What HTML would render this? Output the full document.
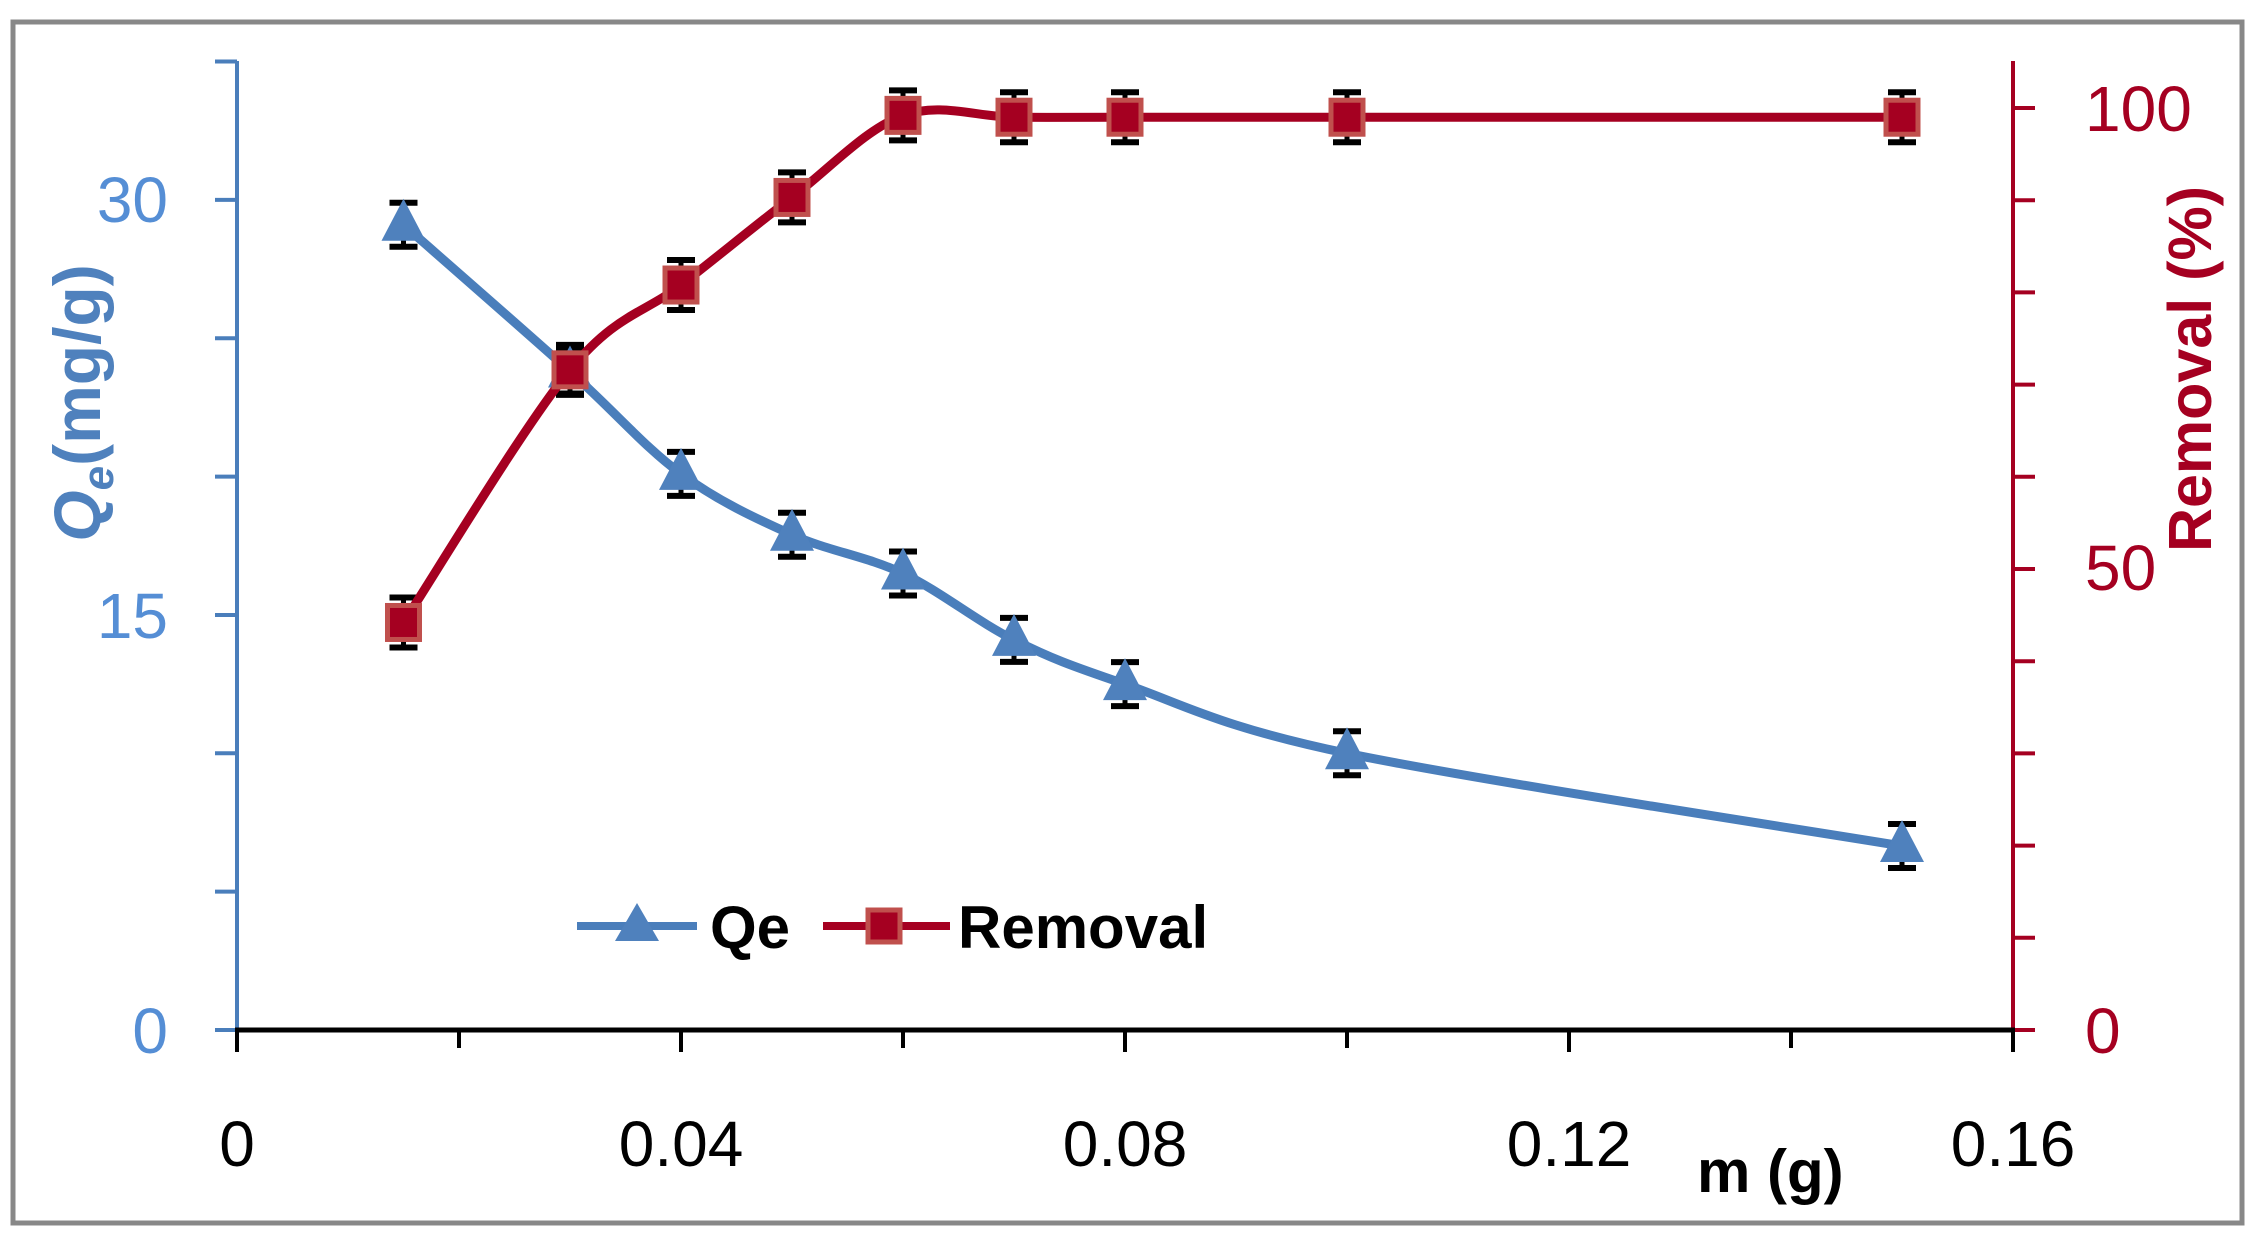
<!DOCTYPE html>
<html><head><meta charset="utf-8"><style>
html,body{margin:0;padding:0;background:#fff}
svg{display:block}
text{font-family:"Liberation Sans",sans-serif}
</style></head><body>
<svg id="s" width="2258" height="1243" viewBox="0 0 2258 1243" xmlns="http://www.w3.org/2000/svg">
<rect x="13" y="22" width="2229" height="1201" fill="#fff" stroke="#888" stroke-width="5"/>
<g id="ax"></g>
<g font-size="64" fill="#558ed5" text-anchor="end">
<text x="168" y="222">30</text><text x="168" y="638">15</text><text x="168" y="1053">0</text>
</g>
<g font-size="64" fill="#a50021">
<text x="2085" y="131">100</text><text x="2085" y="590">50</text><text x="2085" y="1053">0</text>
</g>
<g font-size="64" fill="#000" text-anchor="middle">
<text x="237" y="1166">0</text><text x="681" y="1166">0.04</text><text x="1125" y="1166">0.08</text><text x="1569" y="1166">0.12</text><text x="2013" y="1166">0.16</text>
</g>
<text x="1697" y="1192" font-size="60" font-weight="bold" fill="#000">m (g)</text>
<text transform="translate(100,403) rotate(-90)" text-anchor="middle" font-size="66" font-weight="bold" fill="#4f81bd"><tspan font-style="italic">Q</tspan><tspan font-style="italic" font-size="44" dy="13">e</tspan><tspan dy="-13">(mg/g)</tspan></text>
<text transform="translate(2211,369) rotate(-90)" text-anchor="middle" font-size="61" font-weight="bold" fill="#a50021">Removal (%)</text>
<g id="data"></g>
<line x1="577" y1="926" x2="697" y2="926" stroke="#4a7ebb" stroke-width="8"/>
<polygon points="637,903 659,941 615,941" fill="#4f81bd"/>
<text x="710" y="948" font-size="60" font-weight="bold">Qe</text>
<line x1="823" y1="926" x2="950" y2="926" stroke="#a50021" stroke-width="8"/>
<rect x="868" y="910" width="32" height="32" fill="#a50021" stroke="#c0504d" stroke-width="5"/>
<text x="958" y="948" font-size="60" font-weight="bold">Removal</text>
</svg>
<script>
var NS="http://www.w3.org/2000/svg";
function el(p,t,a){var e=document.createElementNS(NS,t);for(var k in a)e.setAttribute(k,a[k]);p.appendChild(e);return e;}
var ax=document.getElementById('ax'),d=document.getElementById('data');
var X=function(m){return 237+m*11100;},YL=function(v){return 1030-v*27.67;},YR=function(v){return 1030-v*9.22;};
el(ax,'line',{x1:237,y1:61,x2:237,y2:1030,stroke:'#4a7ebb','stroke-width':4});
for(var v=0;v<=35;v+=5)el(ax,'line',{x1:215,y1:YL(v),x2:237,y2:YL(v),stroke:'#4a7ebb','stroke-width':4});
el(ax,'line',{x1:2013,y1:61,x2:2013,y2:1030,stroke:'#a50021','stroke-width':4});
for(var v=0;v<=100;v+=10)el(ax,'line',{x1:2013,y1:YR(v),x2:2035,y2:YR(v),stroke:'#a50021','stroke-width':4});
el(ax,'line',{x1:235,y1:1030,x2:2015,y2:1030,stroke:'#000','stroke-width':5});
for(var i=0;i<=8;i++){var x=237+i*222;el(ax,'line',{x1:x,y1:1030,x2:x,y2:i%2?1048:1052,stroke:'#000','stroke-width':4});}
var ms=[0.015,0.03,0.04,0.05,0.06,0.07,0.08,0.10,0.15];
var qe=[29.1,23.8,20.1,17.9,16.5,14.1,12.5,10.0,6.65];
var rm=[44.2,71.6,80.8,90.3,99.2,99,99,99,99];
function spline(pts){var s='M'+pts[0][0]+','+pts[0][1];for(var i=0;i<pts.length-1;i++){var p0=pts[i-1]||pts[i],p1=pts[i],p2=pts[i+1],p3=pts[i+2]||p2;var c1=[p1[0]+(p2[0]-p0[0])/6,p1[1]+(p2[1]-p0[1])/6],c2=[p2[0]-(p3[0]-p1[0])/6,p2[1]-(p3[1]-p1[1])/6];s+=' C'+c1+' '+c2+' '+p2;}return s;}
var pq=ms.map(function(m,i){return [X(m),YL(qe[i])];}),pr=ms.map(function(m,i){return [X(m),YR(rm[i])];});
function eb(x,y1,y2){el(d,'line',{x1:x,y1:y1,x2:x,y2:y2,stroke:'#000','stroke-width':5});el(d,'line',{x1:x-14,y1:y1,x2:x+14,y2:y1,stroke:'#000','stroke-width':6});el(d,'line',{x1:x-14,y1:y2,x2:x+14,y2:y2,stroke:'#000','stroke-width':6});}
pq.forEach(function(p){eb(p[0],p[1]-22,p[1]+22);});
pr.forEach(function(p){eb(p[0],p[1]-25,p[1]+25);});
el(d,'path',{d:spline(pq),fill:'none',stroke:'#4a7ebb','stroke-width':9});
pq.forEach(function(p){el(d,'polygon',{points:(p[0])+','+(p[1]-26)+' '+(p[0]+22)+','+(p[1]+16)+' '+(p[0]-22)+','+(p[1]+16),fill:'#4f81bd'});});
el(d,'path',{d:spline(pr),fill:'none',stroke:'#a50021','stroke-width':9});
pr.forEach(function(p){el(d,'rect',{x:p[0]-16,y:p[1]-17,width:32,height:34,fill:'#a50021',stroke:'#c0504d','stroke-width':5});});
</script>
</body></html>
